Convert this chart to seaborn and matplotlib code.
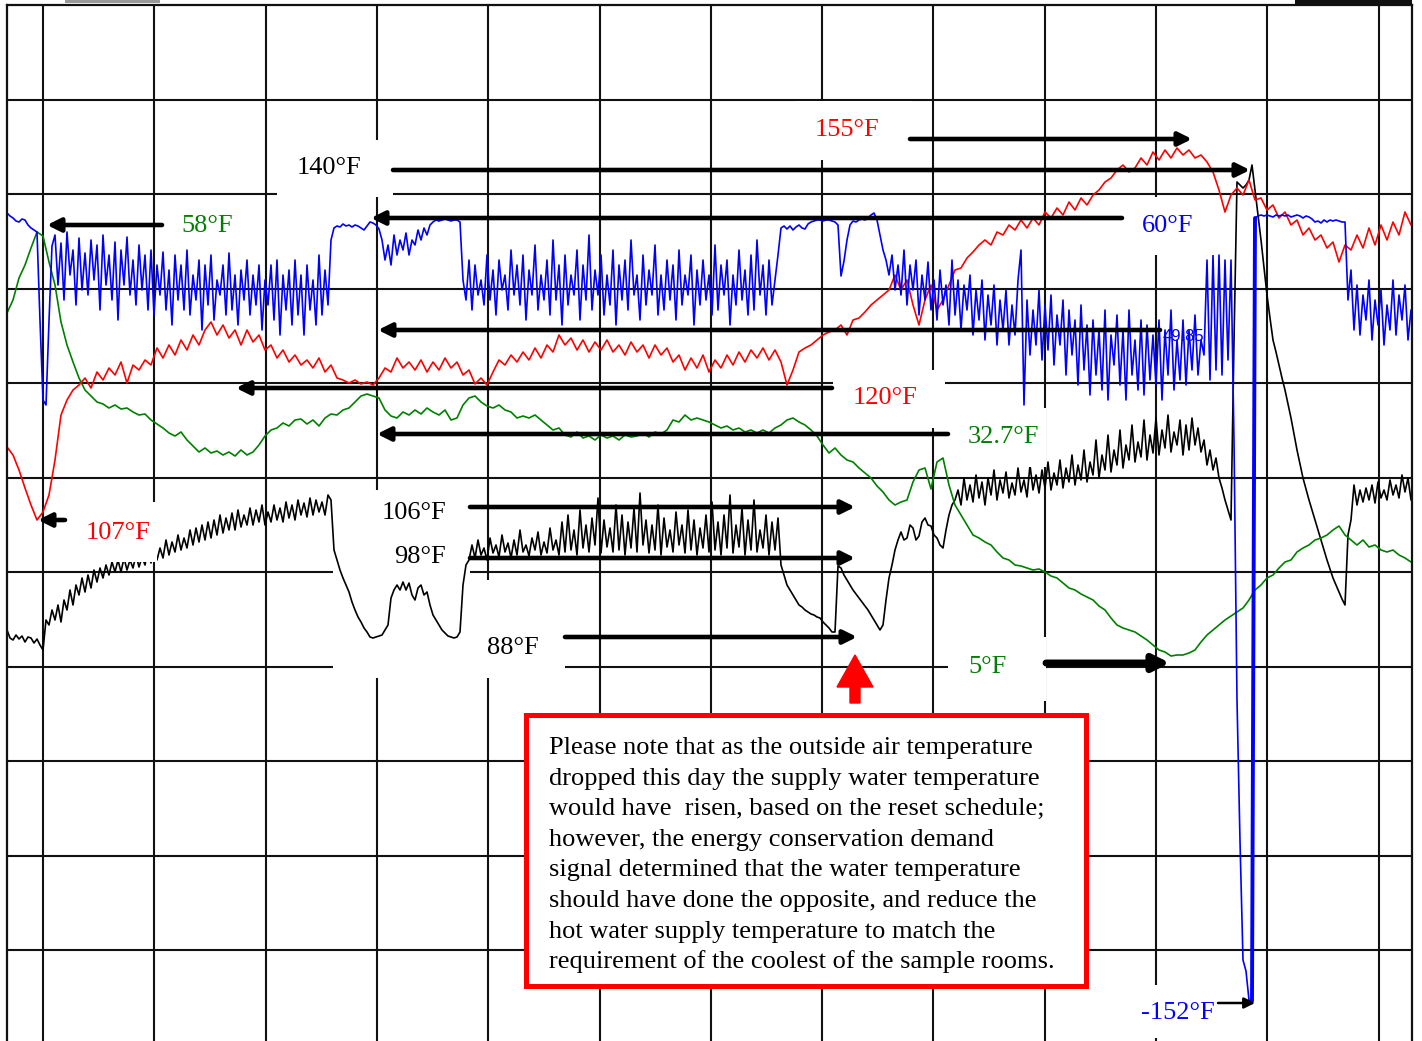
import numpy as np
import pandas as pd
import matplotlib
matplotlib.use("Agg")
import matplotlib.pyplot as plt
from matplotlib.patches import Rectangle, FancyArrow
import seaborn as sns

# ---------------- data ----------------
# x: time position (chart units), y: trend-scale units

# blue trace, read in pieces: (x_from, x_to, values sampled evenly in between)
blue_parts = [
    (0.7, 3.7, [82.8, 82.5, 82.3, 82.0, 81.9, 82.2, 82.1, 81.6, 81.3, 81.1, 80.9]),
    (4.0, 5.2, [72.0, 64.1, 63.6, 72.0, 79.5]),
    (5.5, 33.1, [
        80.6, 75.6, 79.8, 74.1, 80.9, 76.6, 79.1, 73.6, 80.3, 75.1,
        78.8, 74.6, 80.1, 76.1, 79.6, 73.1, 80.6, 75.6, 78.6, 74.1,
        79.9, 72.1, 79.1, 75.6, 80.4, 74.6, 78.1, 73.6, 79.6, 75.1,
        78.6, 73.1, 79.1, 72.6, 77.6, 74.6, 78.9, 73.1, 77.1, 71.6,
        78.6, 74.1, 77.6, 73.1, 79.1, 72.6, 76.6, 74.1, 78.1, 71.1,
        77.6, 73.6, 78.6, 72.1, 76.1, 74.6, 77.6, 72.6, 78.8, 73.1,
        76.6, 71.6, 77.1, 74.1, 78.1, 72.6, 76.6, 73.6, 77.6, 71.1,
        76.1, 73.6, 77.6, 72.1, 78.1, 70.6, 76.6, 73.1, 77.1, 71.6,
        78.1, 72.6, 76.6, 70.6, 77.6, 73.1, 76.1, 71.6, 78.6, 72.6,
        77.1, 73.6, 80.1]),
    (33.4, 37.9, [81.3, 81.5, 81.4, 81.7, 81.5, 81.6, 81.4, 81.6, 81.5, 81.3,
                  81.1, 81.5, 81.9, 81.8, 81.6, 81.2]),
    (38.2, 43.3, [80.1, 78.1, 79.6, 77.6, 80.6, 78.6, 80.1, 79.1, 80.8, 78.6,
                  80.1, 79.6, 81.1, 80.1, 81.3, 80.6, 81.6, 81.9]),
    (43.6, 46.0, [82.1, 82.0, 82.1, 82.2, 82.1, 82.0, 82.1, 82.1, 81.9]),
    (46.3, 77.8, [
        76.1, 74.1, 78.1, 73.1, 77.6, 74.6, 76.1, 73.6, 78.6, 74.1,
        77.1, 72.6, 78.1, 75.1, 76.6, 73.1, 79.1, 74.6, 77.6, 73.6,
        78.6, 72.1, 77.1, 74.6, 79.6, 73.1, 76.6, 74.1, 78.1, 72.6,
        80.1, 74.1, 77.6, 71.6, 78.6, 73.6, 76.6, 74.6, 79.1, 72.1,
        77.6, 74.1, 80.6, 73.1, 77.1, 74.6, 78.6, 72.6, 76.6, 73.6,
        79.1, 71.6, 77.6, 74.1, 78.1, 73.1, 80.1, 74.6, 76.6, 72.1,
        78.6, 73.6, 77.1, 74.6, 79.6, 72.6, 76.6, 73.1, 78.1, 74.1,
        77.6, 72.1, 79.1, 73.6, 76.6, 74.6, 78.6, 71.6, 77.1, 73.6,
        78.1, 74.1, 76.6, 72.6, 79.6, 73.1, 77.6, 74.6, 78.1, 71.6,
        76.6, 73.6, 79.1, 74.1, 77.1, 72.6, 78.6, 73.1, 80.1, 74.6,
        77.6, 72.6, 78.1, 73.6, 76.1, 78.6]),
    (78.1, 83.8, [81.3, 81.5, 81.2, 81.5, 81.1, 81.4, 81.6, 81.3, 81.2, 81.7,
                  81.9, 82.0, 82.1, 82.1, 82.0, 82.1, 82.1, 82.0, 81.9, 81.6]),
    (84.1, 84.7, [76.5, 78.0, 80.1]),
    (85.0, 87.7, [81.6, 82.0, 81.9, 82.1, 82.2, 82.1, 82.3, 82.6, 82.8, 82.1]),
    (88.0, 100.3, [
        80.6, 79.1, 78.1, 76.6, 78.6, 75.1, 77.6, 74.6, 79.1, 73.6,
        77.6, 75.1, 78.1, 72.6, 76.6, 74.1, 77.9, 73.1, 76.1, 72.1,
        77.1, 73.6, 75.6, 71.6, 78.1, 72.6, 76.1, 71.1, 75.6, 73.1,
        76.6, 70.6, 75.1, 72.1, 76.1, 70.1, 74.6, 71.6, 75.6, 69.6,
        74.1, 71.1]),
    (100.6, 120.4, [
        75.1, 69.6, 73.6, 70.6, 76.1, 79.1, 63.6, 74.1, 68.6, 73.1,
        69.6, 75.1, 68.1, 73.6, 69.1, 74.6, 67.6, 72.6, 69.6, 74.1,
        66.6, 73.1, 68.6, 72.1, 65.6, 73.6, 67.1, 71.6, 64.6, 72.1,
        66.6, 71.1, 65.1, 73.1, 64.1, 70.6, 67.6, 72.6, 65.6, 71.1,
        64.1, 73.1, 66.6, 70.1, 65.1, 72.1, 64.6, 71.6, 66.1, 70.6,
        65.6, 72.1, 64.1, 71.1, 66.6, 73.1, 65.1, 70.1, 66.1, 72.1,
        65.6, 71.1, 67.1, 72.6, 66.6, 70.1, 68.6]),
    (120.7, 123.1, [78.1, 66.1, 78.6, 67.1, 78.6, 66.6, 78.1, 68.1, 78.1]),
    (123.4, 125.2, [60.0, 34.1, 20.0, 8.1, 7.0, 4.1, 4.0]),
    (125.5, 134.5, [82.3, 82.5, 82.6, 82.5, 82.6, 82.5, 82.4, 82.6, 82.5, 82.6,
                    82.5, 82.6, 82.4, 82.5, 82.6, 82.5, 82.3, 82.5, 82.4, 82.2,
                    81.9, 82.0, 81.8, 82.1, 81.9, 82.1, 82.0, 82.1, 82.0, 81.9, 81.9]),
    (134.8, 141.1, [74.1, 77.1, 71.1, 75.6, 70.6, 74.6, 72.1, 76.1, 70.1, 74.1,
                    71.6, 75.1, 69.6, 73.6, 71.1, 76.1, 70.6, 74.6, 72.1, 75.6,
                    70.1, 73.1]),
]
# the heavy recovery stroke of the blue trace (x range of the heavy line)
BLUE_HEAVY_X = (125.0, 125.6)

black_parts = [
    (0.7, 4.0, [41.1, 40.3, 40.1, 40.6, 40.2, 40.5, 39.9, 40.4, 40.3, 39.8, 40.2, 39.6]),
    (4.3, 33.1, [
        39.1, 42.1, 41.6, 43.1, 42.1, 43.6, 41.9, 44.1, 43.1, 45.1,
        43.6, 45.6, 44.6, 46.3, 44.9, 46.6, 45.3, 47.1, 45.9, 47.3,
        46.3, 47.6, 46.6, 47.9, 46.9, 48.1, 46.9, 48.3, 47.1, 48.1,
        47.3, 48.6, 47.4, 48.4, 47.6, 49.1, 47.8, 49.6, 48.1, 49.3,
        48.3, 50.1, 48.6, 49.9, 48.9, 50.6, 49.1, 50.3, 49.3, 51.1,
        49.6, 51.3, 49.9, 51.6, 50.1, 51.9, 50.3, 52.1, 50.6, 52.6,
        50.8, 52.3, 51.1, 52.8, 51.1, 53.1, 51.4, 52.6, 51.6, 53.3,
        51.6, 53.1, 51.9, 53.6, 51.6, 52.9, 51.9, 53.6, 52.1, 53.3,
        51.9, 53.9, 52.3, 53.6, 52.1, 54.1, 52.6, 53.8, 52.4, 54.3,
        52.6, 54.1, 52.9, 53.9, 52.6, 54.6, 54.1]),
    (33.4, 46.6, [
        49.1, 48.1, 47.1, 46.3, 45.6, 44.9, 43.9, 43.1, 42.4, 41.9,
        41.3, 40.9, 40.4, 40.3, 40.4, 40.5, 40.6, 41.1, 41.6, 44.3,
        45.1, 45.6, 45.1, 45.9, 45.1, 45.8, 44.6, 44.1, 45.3, 45.6,
        44.6, 44.9, 43.6, 42.6, 42.1, 41.6, 41.1, 40.8, 40.5, 40.4,
        40.3, 40.4, 40.9, 45.6, 47.6]),
    (46.9, 77.8, [
        48.1, 49.6, 48.3, 50.1, 48.6, 49.3, 48.1, 50.3, 48.8, 49.6,
        48.4, 50.6, 48.9, 49.8, 48.3, 50.1, 48.6, 51.1, 48.9, 49.6,
        48.5, 50.3, 49.1, 50.9, 48.6, 49.9, 48.8, 51.3, 49.1, 50.1,
        48.6, 51.9, 48.9, 52.6, 49.1, 51.1, 48.6, 53.1, 49.3, 51.6,
        48.9, 52.3, 49.6, 54.3, 48.8, 52.1, 49.4, 51.3, 48.9, 53.6,
        49.1, 52.6, 48.6, 51.9, 49.3, 53.3, 48.9, 54.8, 49.6, 52.1,
        48.8, 51.6, 49.1, 53.6, 48.6, 52.3, 49.4, 51.1, 48.9, 52.9,
        49.6, 51.6, 48.8, 53.1, 49.1, 52.1, 48.6, 51.3, 49.3, 52.6,
        48.9, 53.9, 49.1, 51.9, 48.6, 52.6, 49.3, 54.6, 48.8, 51.6,
        49.4, 53.3, 48.6, 52.1, 49.1, 54.1, 48.9, 51.1, 49.3, 52.6,
        48.6, 51.9, 49.1, 52.3]),
    (78.1, 83.5, [47.6, 46.6, 45.6, 45.1, 44.6, 44.1, 43.6, 43.4, 43.1, 42.9,
                  42.7, 42.6, 42.4, 42.3, 41.9, 41.6, 41.3, 40.9, 40.9]),
    (83.8, 88.3, [47.5, 47.3, 46.6, 46.1, 45.6, 45.1, 44.7, 44.3, 43.9, 43.5,
                  43.1, 42.6, 42.1, 41.6, 41.1, 41.6]),
    (88.6, 95.5, [44.1, 46.3, 47.6, 49.1, 50.1, 50.9, 50.1, 50.3, 51.6, 51.3,
                  50.1, 50.5, 51.9, 52.3, 51.6, 51.5, 50.6, 50.3, 49.6, 49.3,
                  51.1, 52.6, 53.6, 54.1]),
    (95.8, 123.1, [
        55.1, 53.6, 56.3, 54.1, 55.6, 53.9, 56.6, 54.3, 55.9, 53.6,
        56.3, 54.6, 57.1, 54.1, 56.1, 54.8, 56.9, 54.3, 55.8, 54.6,
        57.3, 54.9, 56.1, 54.4, 57.6, 55.1, 56.6, 54.8, 57.1, 55.3,
        57.9, 55.1, 56.8, 55.6, 58.1, 55.3, 57.3, 55.9, 58.6, 55.6,
        57.6, 56.1, 59.1, 55.9, 57.9, 56.6, 60.1, 56.3, 58.6, 57.1,
        60.6, 56.9, 59.1, 57.6, 61.1, 57.3, 59.6, 58.1, 61.6, 57.9,
        59.9, 58.4, 62.1, 58.1, 60.6, 58.8, 62.3, 58.6, 61.1, 59.3,
        62.6, 58.9, 60.9, 59.6, 62.1, 58.6, 61.6, 59.1, 62.3, 59.6,
        61.3, 58.9, 60.1, 57.6, 59.1, 57.1, 58.3, 56.3, 55.3, 54.1,
        53.1, 52.1]),
    (123.4, 125.2, [70.0, 85.9, 85.6, 85.3, 85.6, 86.1, 87.6]),
    (125.5, 134.5, [85.1, 82.6, 80.1, 77.3, 74.6, 72.3, 70.1, 68.9, 67.6, 66.3,
                    65.1, 63.7, 62.3, 60.7, 59.1, 57.7, 56.3, 55.2, 54.1, 53.1,
                    52.1, 51.1, 50.1, 49.1, 48.1, 47.2, 46.3, 45.6, 44.9, 44.2, 43.6]),
    (134.8, 141.1, [50.6, 52.1, 55.6, 53.6, 55.1, 53.9, 55.3, 54.1, 55.6, 53.8,
                    55.9, 54.3, 55.1, 54.1, 56.1, 54.6, 55.6, 54.3, 56.6, 54.9,
                    56.3, 54.1]),
]

RED_GREEN_START, RED_GREEN_END = 0.7, 141.1

red_trace = [
    59.4, 58.6, 57.1, 55.3, 53.6, 52.1, 52.9, 54.6, 58.1, 62.6,
    64.1, 65.1, 65.6, 66.3, 65.3, 66.9, 66.1, 67.3, 66.6, 67.9,
    65.8, 67.6, 67.1, 68.1, 67.6, 69.3, 68.3, 69.6, 68.6, 70.1,
    69.1, 70.6, 69.6, 71.1, 71.9, 70.6, 71.6, 70.3, 71.1, 69.6,
    71.1, 69.9, 70.6, 69.1, 69.6, 68.3, 69.1, 67.9, 68.6, 67.6,
    68.1, 67.3, 68.3, 66.9, 67.6, 66.3, 66.1, 65.8, 66.1, 65.7,
    65.9, 65.6, 66.3, 67.3, 66.9, 68.3, 67.3, 67.9, 67.1, 68.1,
    66.9, 67.9, 67.1, 68.3, 67.3, 67.9, 66.6, 67.1, 65.7, 66.3,
    65.6, 66.9, 68.1, 67.6, 68.6, 67.9, 68.9, 68.1, 69.3, 68.3,
    69.6, 68.9, 70.6, 69.6, 70.3, 69.1, 70.1, 68.9, 69.9, 69.1,
    70.1, 68.9, 69.6, 68.6, 69.9, 68.9, 69.6, 68.3, 69.6, 68.6,
    69.3, 67.9, 68.6, 67.1, 68.3, 67.3, 68.6, 66.9, 68.1, 67.3,
    68.6, 67.6, 68.9, 67.9, 69.1, 68.3, 69.3, 68.1, 69.1, 67.9,
    65.6, 67.1, 68.9, 69.3, 69.6, 70.1, 70.6, 70.9, 71.1, 71.6,
    70.6, 72.1, 72.3, 72.9, 73.6, 74.1, 74.6, 75.1, 76.6, 75.1,
    76.1, 73.6, 71.6, 74.1, 75.6, 73.1, 74.1, 75.6, 77.1, 77.3,
    78.3, 78.9, 79.6, 80.1, 79.6, 80.9, 80.6, 81.6, 81.1, 82.1,
    81.3, 82.3, 81.6, 82.9, 82.3, 83.3, 82.6, 83.9, 83.1, 84.3,
    83.6, 84.6, 85.1, 85.9, 86.3, 87.1, 87.6, 86.9, 87.3, 88.3,
    87.6, 88.9, 88.1, 89.1, 88.3, 89.3, 88.6, 89.1, 88.3, 88.6,
    87.9, 86.9, 85.1, 82.9, 84.6, 85.3, 84.6, 86.1, 84.1, 84.3,
    83.1, 83.6, 82.3, 82.9, 81.6, 82.1, 80.6, 81.3, 80.1, 80.6,
    79.3, 79.9, 77.9, 79.6, 79.1, 80.6, 79.3, 81.3, 79.6, 81.6,
    80.1, 81.9, 80.6, 82.9, 81.6,
]

green_trace = [
    72.8, 74.1, 76.3, 77.6, 79.3, 80.9, 80.5, 77.9, 75.6, 71.9,
    69.6, 67.9, 66.3, 65.1, 64.5, 63.9, 63.7, 63.3, 63.6, 63.2,
    63.3, 62.9, 62.6, 62.7, 62.1, 61.7, 61.3, 60.8, 60.5, 60.9,
    60.1, 59.5, 58.9, 59.3, 58.8, 59.0, 58.6, 58.9, 58.5, 59.1,
    58.6, 58.9, 59.6, 60.5, 61.1, 61.3, 61.8, 61.5, 62.1, 62.2,
    61.7, 62.1, 61.5, 62.3, 62.7, 62.6, 63.1, 63.3, 63.9, 64.5,
    64.7, 64.5, 64.3, 63.1, 62.5, 62.3, 62.9, 62.6, 63.1, 62.7,
    63.3, 62.9, 62.6, 63.1, 62.1, 62.3, 63.6, 64.3, 64.5, 63.9,
    63.5, 63.3, 63.6, 63.1, 62.9, 62.3, 62.5, 62.3, 62.6, 62.1,
    61.6, 61.1, 61.3, 60.6, 60.4, 60.9, 60.3, 60.5, 60.1, 60.6,
    60.3, 60.5, 60.1, 60.6, 60.4, 60.5, 60.8, 60.4, 60.9, 60.7,
    61.1, 62.1, 61.9, 62.6, 62.1, 62.3, 62.1, 61.9, 61.6, 61.3,
    61.5, 61.1, 61.3, 60.9, 61.1, 60.8, 61.1, 60.8, 61.3, 61.6,
    62.1, 62.3, 61.9, 61.6, 61.1, 60.5, 59.6, 58.8, 59.3, 58.6,
    58.1, 57.9, 57.3, 56.8, 56.3, 55.5, 54.9, 54.1, 53.6, 53.9,
    54.1, 55.9, 57.1, 57.3, 55.2, 57.9, 58.3, 55.6, 53.6, 52.6,
    51.6, 50.6, 50.3, 49.9, 49.6, 48.9, 48.3, 48.1, 47.6, 47.5,
    47.3, 47.1, 47.2, 46.9, 46.5, 46.3, 45.8, 45.3, 45.1, 44.7,
    44.4, 44.1, 43.5, 43.1, 42.3, 41.6, 41.3, 41.1, 40.9, 40.5,
    40.1, 39.6, 39.1, 38.9, 38.5, 38.6, 38.6, 38.8, 39.1, 39.9,
    40.6, 41.1, 41.6, 42.1, 42.5, 42.9, 43.3, 44.1, 45.1, 45.6,
    46.3, 46.6, 47.3, 47.9, 48.1, 48.9, 49.3, 49.6, 50.1, 50.3,
    50.6, 51.1, 51.5, 50.6, 50.1, 49.6, 50.1, 49.4, 49.6, 49.1,
    48.9, 49.1, 48.6, 48.3, 47.9,
]

series_order = ["black", "green", "red", "blue"]
series_colors = {"black": "#000000", "green": "#008000", "red": "#FF0000", "blue": "#0000FF"}

# annotation labels (text, colour, x, baseline y)
label_text = ["155°F", "140°F", "58°F", "60°F", "120°F", "32.7°F", "107°F",
              "106°F", "98°F", "88°F", "5°F", "-152°F"]
label_color = ["red", "black", "green", "blue", "red", "green", "red",
               "black", "black", "black", "green", "blue"]
label_x = [81.5, 29.7, 18.1, 114.2, 85.3, 96.8, 8.6, 38.2, 39.4, 48.7, 96.8, 114.1]
label_y = [90.5, 86.7, 80.9, 80.9, 63.7, 59.8, 50.2, 52.2, 47.8, 38.7, 36.8, 2.2]
small_label = ("49.85", 116.3, 70.0)

# pointer arrows (tail -> head)
arrow_tail = [(91.0, 90.2), (39.3, 87.1), (16.2, 81.6), (112.2, 82.3), (116.0, 71.1),
              (83.2, 65.3), (94.8, 60.7), (6.5, 52.1), (47.0, 53.4), (47.0, 48.3),
              (56.5, 40.4), (104.6, 37.8), (121.8, 3.8)]
arrow_head = [(119.2, 90.2), (125.0, 87.1), (4.7, 81.6), (37.1, 82.3), (37.8, 71.1),
              (23.6, 65.3), (37.7, 60.7), (3.8, 52.1), (85.5, 53.4), (85.5, 48.3),
              (85.7, 40.4), (117.0, 37.8), (125.5, 3.8)]
arrow_lw = [3.3] * 11 + [5.0, 1.8]

# white label backgrounds (x, y, w, h, above_traces)
mask_boxes = [
    (27.7, 84.4, 11.6, 5.7, False),
    (79.5, 88.1, 11.7, 5.9, False),
    (112.2, 78.6, 9.5, 5.8, True),
    (83.3, 61.3, 11.2, 5.8, False),
    (94.8, 57.4, 9.8, 5.9, True),
    (6.5, 47.9, 9.2, 6.0, True),
    (33.3, 46.1, 13.7, 9.0, False),
    (33.3, 36.3, 23.2, 9.8, False),
    (94.8, 34.0, 9.8, 6.4, False),
    (113.5, 0.3, 13.0, 5.3, False),
]

note_lines = [
    "Please note that as the outside air temperature",
    "dropped this day the supply water temperature",
    "would have  risen, based on the reset schedule;",
    "however, the energy conservation demand",
    "signal determined that the water temperature",
    "should have done the opposite, and reduce the",
    "hot water supply temperature to match the",
    "requirement of the coolest of the sample rooms.",
]

grid_x = [4.3 + 11.13 * k for k in range(13)]
grid_y = [9.1 + 9.45 * k for k in range(10)]

# ---------------- build table ----------------
def pieces_to_frame(parts, name):
    xs = np.concatenate([np.linspace(a, b, len(v)) for a, b, v in parts])
    ys = np.concatenate([np.asarray(v, dtype=float) for _, _, v in parts])
    return pd.DataFrame({"x": xs, "value": ys, "series": name})

blue_df = pieces_to_frame(blue_parts, "blue")
frames = [
    pieces_to_frame(black_parts, "black"),
    pd.DataFrame({"x": np.linspace(RED_GREEN_START, RED_GREEN_END, len(green_trace)),
                  "value": green_trace, "series": "green"}),
    pd.DataFrame({"x": np.linspace(RED_GREEN_START, RED_GREEN_END, len(red_trace)),
                  "value": red_trace, "series": "red"}),
    blue_df,
]
df = pd.concat(frames, ignore_index=True)
blue_heavy = blue_df[(blue_df["x"] >= BLUE_HEAVY_X[0]) & (blue_df["x"] <= BLUE_HEAVY_X[1])]

# ---------------- plotting ----------------
sns.set_theme(style="white")
plt.rcParams["font.family"] = ["Liberation Serif", "DejaVu Serif"]

fig = plt.figure(figsize=(14.22, 10.41), dpi=100)
ax = fig.add_axes([7 / 1422, 0, 1405 / 1422, 1036 / 1041])
ax.set_xlim(0.7, 141.2)
ax.set_ylim(0, 103.6)

sns.lineplot(data=df, x="x", y="value", hue="series", hue_order=series_order,
             palette=series_colors, estimator=None, sort=False, legend=False,
             linewidth=1.2, ax=ax, zorder=2)
sns.lineplot(data=blue_heavy, x="x", y="value", color="#0000FF", estimator=None,
             sort=False, legend=False, linewidth=2.8, ax=ax, zorder=2.2)

ax.set_xticks(grid_x)
ax.set_yticks(grid_y)
ax.grid(True, color="#111111", linewidth=1.5)
ax.set_axisbelow(True)
ax.tick_params(length=0, labelbottom=False, labelleft=False)
ax.set_xlabel("")
ax.set_ylabel("")
for side in ["left", "right", "top"]:
    ax.spines[side].set_visible(True)
    ax.spines[side].set_color("#111111")
    ax.spines[side].set_linewidth(1.6)
ax.spines["bottom"].set_visible(False)

for (bx, by, bw, bh, top) in mask_boxes:
    ax.add_patch(Rectangle((bx, by), bw, bh, facecolor="white", edgecolor="none",
                           zorder=2.5 if top else 1.5))

for (t, h, lw) in zip(arrow_tail, arrow_head, arrow_lw):
    ms = 20 if lw < 4 else 24
    if lw < 2:
        ms = 16
    ax.annotate("", xy=h, xytext=t,
                arrowprops=dict(arrowstyle="-|>", color="black", lw=lw,
                                mutation_scale=ms, shrinkA=0, shrinkB=0),
                zorder=3)

for txt, col, lx, ly in zip(label_text, label_color, label_x, label_y):
    ax.text(lx, ly, txt, color=col, fontsize=19, ha="left", va="baseline", zorder=4)
ax.text(small_label[1], small_label[2], small_label[0], color="#0000FF", fontsize=12,
        family=["Liberation Sans", "DejaVu Sans"], ha="left", va="baseline", zorder=4)

# note box
ax.add_patch(Rectangle((52.6, 5.5), 56.0, 27.1, facecolor="white", edgecolor="#FF0000",
                       linewidth=3.6, zorder=3))
for k, line in enumerate(note_lines):
    ax.text(54.9, 28.7 - 3.06 * k, line, color="black", fontsize=19,
            ha="left", va="baseline", zorder=4)

# red pointer up to the event
ax.add_patch(FancyArrow(85.5, 33.8, 0, 4.8, width=1.0, head_width=3.6, head_length=3.2,
                        length_includes_head=True, color="#FF0000", zorder=3))

# small top-edge artefacts
ax.add_patch(Rectangle((6.5, 103.8), 9.5, 0.3, facecolor="#999999", edgecolor="none",
                       clip_on=False, zorder=3))
ax.add_patch(Rectangle((129.5, 103.65), 11.7, 0.4, facecolor="#111111", edgecolor="none",
                       clip_on=False, zorder=3))

fig.savefig("out.png", dpi=100)
